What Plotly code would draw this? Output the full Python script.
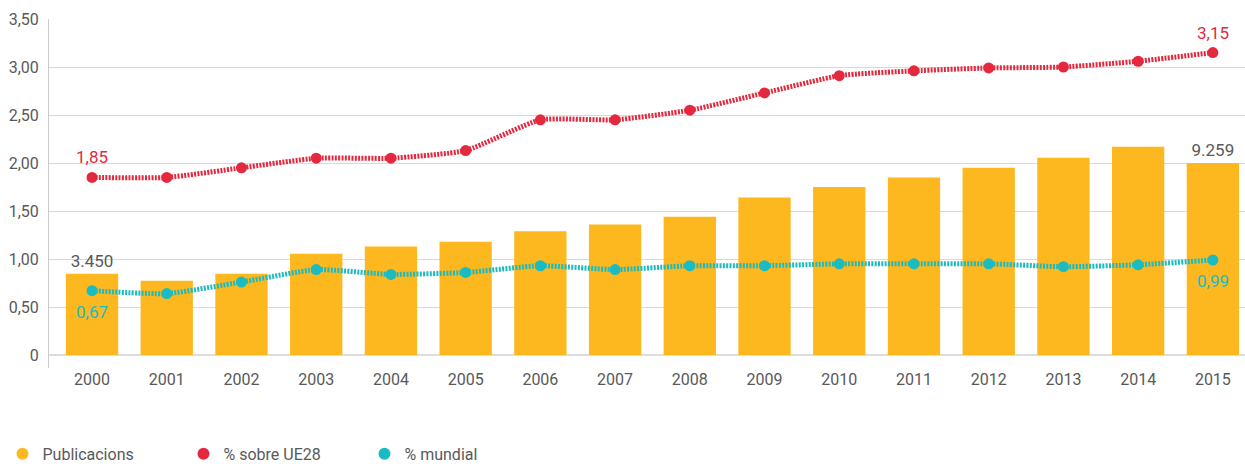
import plotly.graph_objects as go

# --- data ---------------------------------------------------------------
years = ["2000", "2001", "2002", "2003", "2004", "2005", "2006", "2007",
         "2008", "2009", "2010", "2011", "2012", "2013", "2014", "2015"]
publicacions = [3450, 3082, 3450, 4498, 4876, 5128, 5682, 6035,
                6438, 7445, 7999, 8503, 9007, 9536, 10115, 9259]
pct_ue28 = [1.85, 1.85, 1.95, 2.05, 2.05, 2.13, 2.45, 2.45,
            2.55, 2.73, 2.91, 2.96, 2.99, 3.00, 3.06, 3.15]
pct_mundial = [0.67, 0.64, 0.76, 0.89, 0.84, 0.86, 0.93, 0.89,
               0.93, 0.93, 0.95, 0.95, 0.95, 0.92, 0.94, 0.99]
y_tick_vals = [0, 0.5, 1.0, 1.5, 2.0, 2.5, 3.0, 3.5]
y_tick_text = ["0", "0,50", "1,00", "1,50", "2,00", "2,50", "3,00", "3,50"]
labelled = [0, len(years) - 1]   # first and last points carry a value label

# --- styling ------------------------------------------------------------
FONT = "Roboto"
GREY_TEXT = "#595959"
BAR_COLOR = "#FDB71F"
RED = "#E4293F"
TEAL = "#1ABCC1"

Y_MIN, Y_MAX = -0.135, 3.5
# publication axis (hidden): counts at the percentage-axis zero and counts per percentage unit
PUBS_AT_ZERO = -817
PUBS_PER_UNIT = 5038
pubs_range = [PUBS_AT_ZERO + Y_MIN * PUBS_PER_UNIT, PUBS_AT_ZERO + Y_MAX * PUBS_PER_UNIT]


def fmt_thousands(v):
    return f"{v:,}".replace(",", ".")


def fmt_decimal(v):
    return f"{v:.2f}".replace(".", ",")


fig = go.Figure()

# bars on the hidden base axis "y"; percentage lines on the visible overlay "y2"
bar_text = [fmt_thousands(v) if i in labelled else "" for i, v in enumerate(publicacions)]
fig.add_trace(go.Bar(
    x=years,
    y=[v - PUBS_AT_ZERO for v in publicacions],
    base=PUBS_AT_ZERO,
    yaxis="y",
    width=0.7,
    marker=dict(color=BAR_COLOR, line=dict(width=0)),
    text=bar_text,
    textposition="outside",
    textfont=dict(family=FONT, size=17, color=GREY_TEXT),
    cliponaxis=False,
    showlegend=False,
    hoverinfo="skip",
))

for values, color in [(pct_ue28, RED), (pct_mundial, TEAL)]:
    fig.add_trace(go.Scatter(
        x=years, y=values, yaxis="y2",
        mode="lines+markers",
        line=dict(color=color, width=5, dash="2px,1.3px", shape="spline", smoothing=0.5),
        marker=dict(color=color, size=11),
        showlegend=False,
        cliponaxis=False,
    ))

# value labels on the percentage lines
annotations = []
for values, color, shift in [(pct_ue28, RED, 20), (pct_mundial, TEAL, -21)]:
    for i in labelled:
        annotations.append(dict(
            x=i, y=values[i], xref="x", yref="y2",
            text=fmt_decimal(values[i]), showarrow=False,
            yshift=shift, font=dict(family=FONT, size=17, color=color),
        ))

# legend entries drawn as dots
for name, color in [("Publicacions", BAR_COLOR), ("% sobre UE28", RED), ("% mundial", TEAL)]:
    fig.add_trace(go.Scatter(
        x=[None], y=[None], mode="markers", name=name,
        marker=dict(color=color, size=14, symbol="circle"),
    ))

fig.update_layout(
    width=1245, height=464,
    margin=dict(l=49, r=0, t=19, b=96),
    paper_bgcolor="white", plot_bgcolor="white",
    font=dict(family=FONT, size=16, color=GREY_TEXT),
    bargap=0.3,
    annotations=annotations,
    xaxis=dict(
        type="category", range=[-0.576, 15.43],
        showgrid=False, showline=False, ticks="", zeroline=False,
        tickfont=dict(family=FONT, size=16, color=GREY_TEXT),
    ),
    yaxis=dict(range=pubs_range, visible=False, showgrid=False, zeroline=False),
    yaxis2=dict(
        overlaying="y", side="left",
        range=[Y_MIN, Y_MAX], tickvals=y_tick_vals, ticktext=y_tick_text,
        showgrid=True, gridcolor="#D9D9D9", gridwidth=1,
        zeroline=True, zerolinecolor="#DDDDDD", zerolinewidth=2,
        showline=True, linecolor="#CCCCCC", linewidth=1,
        ticks="", ticklabelstandoff=6,
        tickfont=dict(family=FONT, size=16, color=GREY_TEXT),
    ),
    legend=dict(
        orientation="h", xref="container", yref="container",
        x=0.002, y=0.022, xanchor="left", yanchor="middle",
        entrywidth=136, entrywidthmode="pixels",
        font=dict(family=FONT, size=16, color=GREY_TEXT),
        itemsizing="constant",
    ),
)

fig.write_html("out.html")
